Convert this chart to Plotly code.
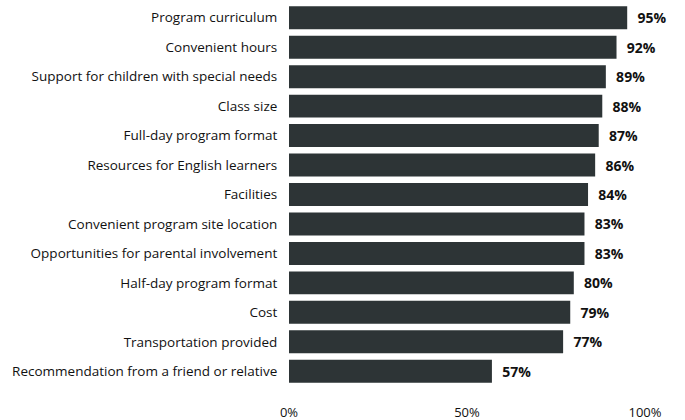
import plotly.graph_objects as go

categories = [
    "Program curriculum",
    "Convenient hours",
    "Support for children with special needs",
    "Class size",
    "Full-day program format",
    "Resources for English learners",
    "Facilities",
    "Convenient program site location",
    "Opportunities for parental involvement",
    "Half-day program format",
    "Cost",
    "Transportation provided",
    "Recommendation from a friend or relative",
]
values = [95, 92, 89, 88, 87, 86, 84, 83, 83, 80, 79, 77, 57]
x_ticks = [0, 50, 100]
x_tick_labels = ["0%", "50%", "100%"]

fig = go.Figure(go.Bar(
    y=categories,
    x=values,
    orientation="h",
    marker=dict(color="#2d3436", line=dict(width=0)),
    width=0.78,
    text=[f"  <b>{v}%</b>" for v in values],
    textposition="outside",
    textfont=dict(size=14, color="#111111", family="Open Sans"),
    cliponaxis=False,
))

fig.update_layout(
    width=685, height=420,
    margin=dict(l=289, r=40, t=3, b=34),
    paper_bgcolor="white", plot_bgcolor="white",
    font=dict(family="Open Sans", size=13, color="#111111"),
    showlegend=False,
)
fig.update_xaxes(
    range=[0, 100], tickvals=x_ticks, ticktext=x_tick_labels,
    showgrid=False, zeroline=False, showline=False,
    ticks="outside", ticklen=14, tickcolor="rgba(0,0,0,0)",
    tickfont=dict(size=13), automargin=False,
)
fig.update_yaxes(
    autorange="reversed", showgrid=False, zeroline=False, showline=False,
    ticks="outside", ticklen=8, tickcolor="rgba(0,0,0,0)",
    tickfont=dict(size=13.5), automargin=False,
)

fig.write_html(
    "out.html",
    config={"displayModeBar": False},
    post_script="document.body.style.margin='0px';document.body.style.overflow='hidden';",
)
